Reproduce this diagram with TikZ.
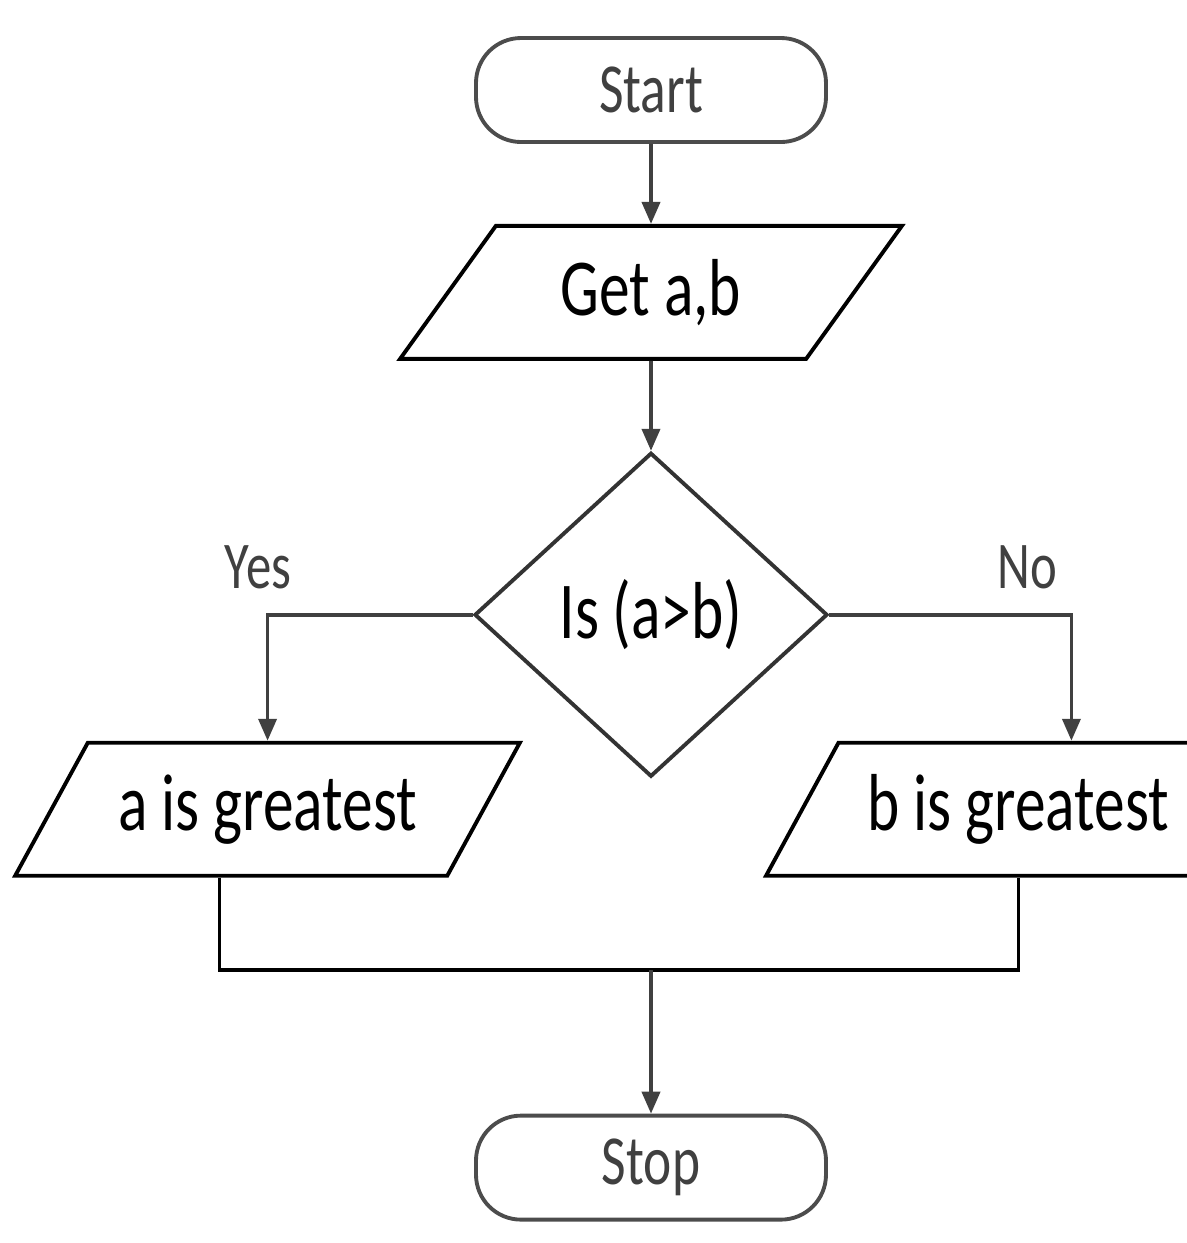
\documentclass[tikz,border=0pt]{standalone}
\usepackage{fontspec}
\setmainfont{Carlito}[FakeStretch=0.76]
\usetikzlibrary{shapes.geometric,arrows.meta,positioning}

\begin{document}
\begin{tikzpicture}[node distance=1cm]
		\tikzstyle{termbox}=[rectangle,draw=black!70,line width=1.1pt,
		rounded corners=0.45cm,minimum width=3.5cm,minimum height=1.04cm,
		text=black!75,font=\fontsize{20}{24}\selectfont]
		\tikzstyle{iobox}=[trapezium,trapezium left angle=55,trapezium right angle=125,
		trapezium stretches=true,draw=black,line width=1.1pt,
		minimum width=5.05cm,minimum height=1.33cm,font=\fontsize{23}{27}\selectfont]
		\tikzstyle{decbox}=[diamond,draw=black!80,line width=1.1pt,inner sep=0pt,
		minimum width=3.53cm,minimum height=3.24cm,font=\fontsize{23}{27}\selectfont]
		\tikzstyle{flow}=[-{Triangle[length=2.2mm,width=1.8mm]},line width=1.1pt,draw=black!75]
		\tikzstyle{lbl}=[text=black!75,font=\fontsize{19}{22}\selectfont]
		\useasboundingbox (0,0) rectangle (11.87,-12.43);
		\clip (0,0) rectangle (11.87,-12.43);
		\node[termbox] at (6.51,-0.90) (start) {Start};
		\node[iobox,below=0.80cm of start] (get) {Get a,b};
		\node[decbox,below=0.90cm of get]  (dec) {Is (a>b)};
		\node[iobox,below=1.26cm of dec.west,xshift=-2.05cm] (abox) {a is greatest};
		\node[iobox,below=1.26cm of dec.east,xshift=1.89cm]  (bbox) {b is greatest};
		\node[termbox,below=3.35cm of dec] (stop) {Stop};
		\node[lbl] at (2.58,-5.67)  (yes) {Yes};
		\node[lbl] at (10.27,-5.67) (no)  {No};
		\coordinate (join) at (6.51,-9.70);
		\draw[flow] (start) -- (get);
		\draw[flow] (get)   -- (dec);
		\draw[flow] (dec.west) -| (abox.north);
		\draw[flow] (dec.east) -| ([xshift=5.3mm]bbox.north);
		\draw[line width=1.1pt] ([xshift=-4.8mm]abox.south) |- (join) -| (bbox.south);
		\draw[flow] (join) -- (stop);
	\end{tikzpicture}
\end{document}
